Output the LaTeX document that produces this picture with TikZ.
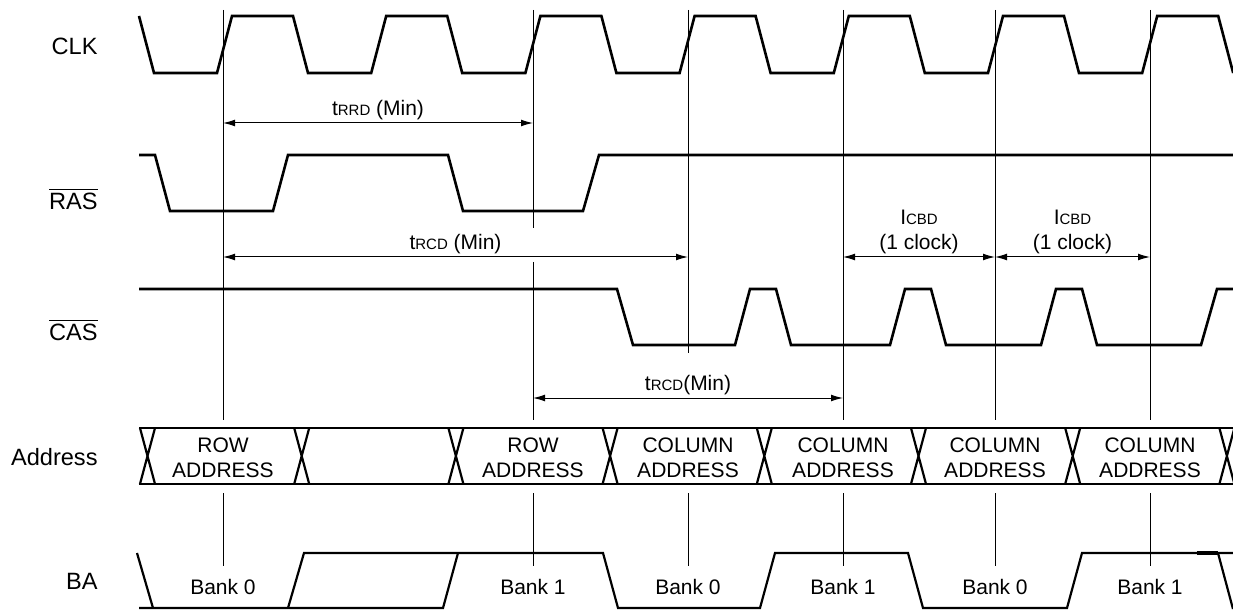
\documentclass[tikz,border=0pt]{standalone}
\usepackage{fontspec}
\setmainfont{Liberation Sans}
\usetikzlibrary{arrows.meta}
\newcommand{\smc}[1]{{\fontsize{7.5}{9}\selectfont #1}}
\begin{document}
\begin{tikzpicture}
  [x=0.5pt, y=-0.5pt, >={Latex[length=6pt,width=3.4pt]},
    signal/.style={line width=1.3pt},
    bus/.style={line width=1.1pt},
    marker/.style={line width=0.4pt},
    dim/.style={<->, line width=0.5pt},
    signame/.style={anchor=east, inner sep=0pt, font=\fontsize{11.8}{14}\selectfont},
    lbl/.style={font=\fontsize{10.5}{12.5}\selectfont, align=center, inner sep=1.5pt},
  ]
\useasboundingbox (0,0) rectangle (1233,610);

% Marker positions and dimension rows
\foreach \x [count=\i] in {223,533,688,843,995,1150}
  \coordinate (m\i) at (\x,0);
\coordinate (rowA) at (0,123);
\coordinate (rowB) at (0,257);
\coordinate (rowC) at (0,398);

% Signal names
\node[signame] (clk)  at (98,46)  {CLK};
\node[signame] (ras)  at (98,199) {$\overline{\hbox{RAS}}$};
\node[signame] (cas)  at (98,330) {$\overline{\hbox{CAS}}$};
\node[signame] (addr) at (98,457) {Address};
\node[signame] (ba)   at (98,581) {BA};

% Marker lines
\foreach \x in {223,843,995,1150}
  \draw[marker] (\x,10) -- (\x,420);
\draw[marker] (533,10) -- (533,228) (533,262) -- (533,420);
\draw[marker] (688,10) -- (688,353);
\foreach \x in {223,533,688,843,995,1150}
  \draw[marker] (\x,493) -- (\x,566);

% CLK
\draw[signal] (139,16) -- (154,73)
  \foreach \k in {0,...,6} {
    -- ({217+154.2*\k},73) -- ++(15,-57) -- ++(61,0) -- ++(15,57)
  };

% RAS
\draw[signal] (139,155) -- (155,155) -- (170,211) -- (273,211) -- (288,155)
  -- (448,155) -- (463,211) -- (583,211) -- (599,155) -- (1233,155);

% CAS
\draw[signal] (139,289) -- (617,289) -- (633,345)
  \foreach \p in {735,890,1041} {
    -- (\p,345) -- ++(15,-56) -- ++(26,0) -- ++(15,56)
  }
  -- (1201,345) -- (1217,289) -- (1233,289);

% Address bus
\draw[bus] (139,428) -- (1233,428) (139,484) -- (1233,484);
\foreach \k in {0,...,7}
  \draw[bus] ({140+154.2*\k},428) -- ++(15,56) ++(0,-56) -- ++(-15,56);
\foreach \x/\t [count=\i] in {223/ROW,533/ROW,688/COLUMN,843/COLUMN,995/COLUMN,1150/COLUMN}
  \node[lbl] (adr-\i) at (\x,458) {\t\\ADDRESS};

% BA
\draw[bus] (137,553) -- (153,608);
\draw[bus] (139,608) -- (443,608) -- (458,553);
\draw[bus] (288,608) -- (304,553) -- (603,553) -- (618,608) -- (760,608)
  -- (775,553) -- (908,553) -- (923,608) -- (1067,608) -- (1082,553) -- (1233,553);
\draw[bus] (1218,553) -- (1233,609);
\draw[line width=2pt] (1197,553) -- (1218,553);
\foreach \x/\b [count=\i] in {223/0,533/1,688/0,843/1,995/0,1150/1}
  \node[lbl] (bank-\i) at (\x,587) {Bank \b};

% Timing arrows
\draw[dim] (m1 |- rowA) -- node[lbl, above] (trrd) {t\smc{RRD} (Min)} (m2 |- rowA);
\draw[dim] (m1 |- rowB) -- node[lbl, above] (trcd-1) {t\smc{RCD} (Min)} (m3 |- rowB);
\draw[dim] (m2 |- rowC) -- node[lbl, above] (trcd-2) {t\smc{RCD}(Min)} (m4 |- rowC);
\draw[dim] (m4 |- rowB) -- node[lbl, above] (icbd-1) {I\smc{CBD}\\(1 clock)} (m5 |- rowB);
\draw[dim] (m5 |- rowB) -- node[lbl, above] (icbd-2) {I\smc{CBD}\\(1 clock)} (m6 |- rowB);
\end{tikzpicture}
\end{document}
